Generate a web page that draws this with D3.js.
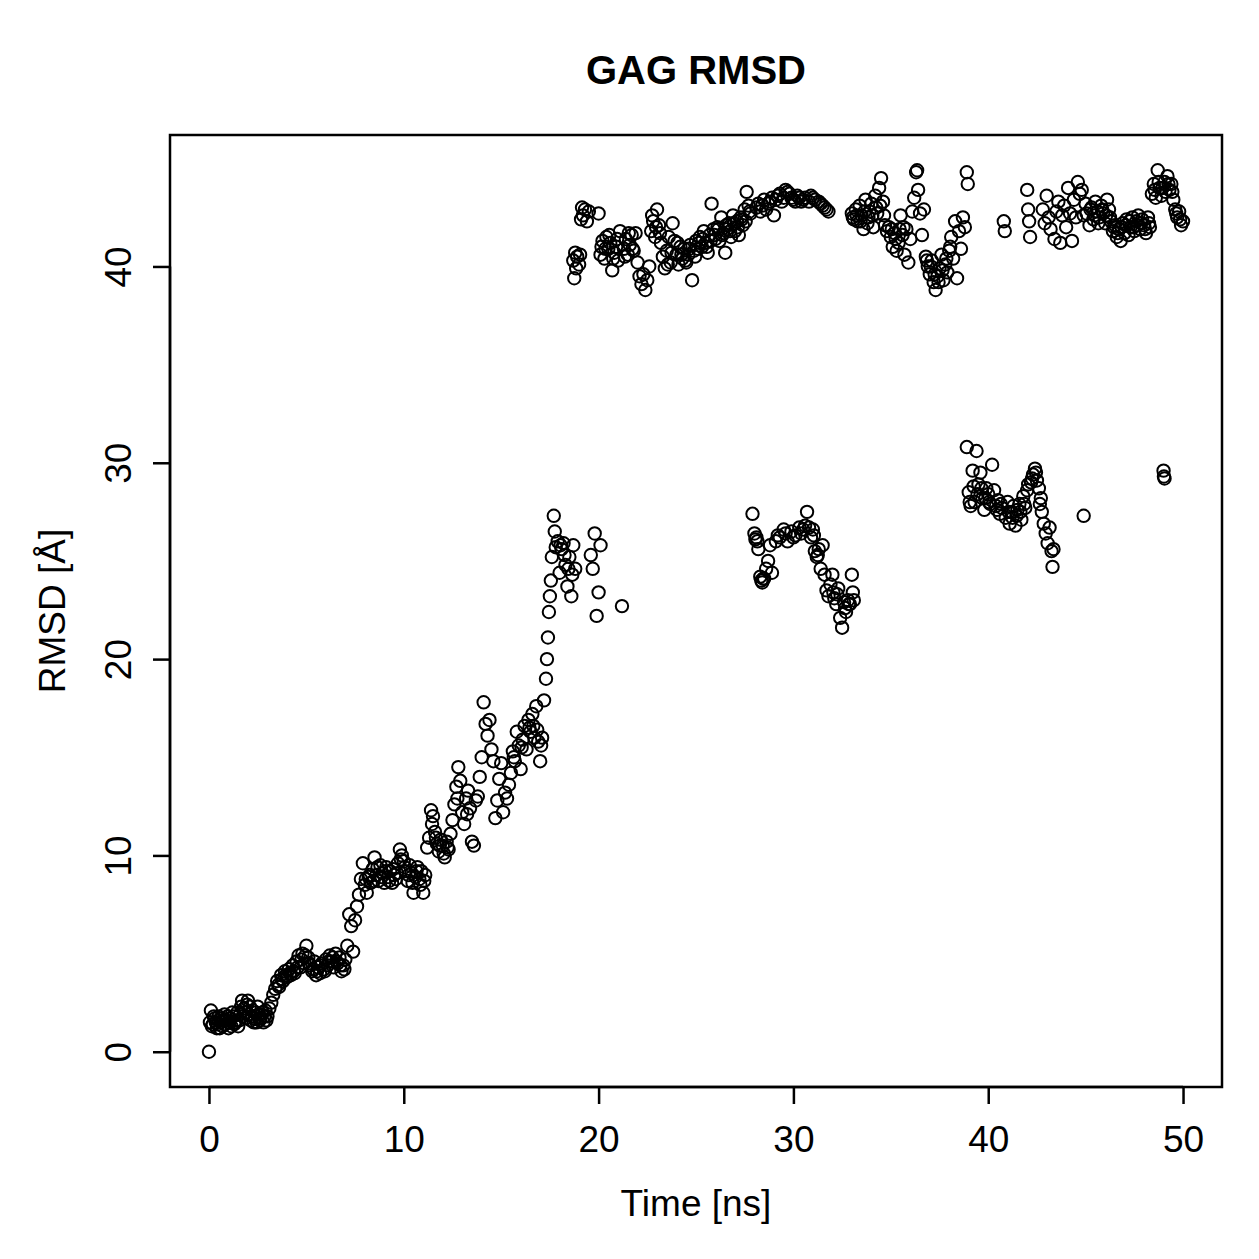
<!DOCTYPE html>
<html>
<head>
<title>GAG RMSD</title>
<script src="https://d3js.org/d3.v7.min.js" charset="utf-8"></script>
<style>
body { margin: 0; background: white; }
text { font-family: "Liberation Sans", Arial, sans-serif; fill: black; }
</style>
</head>
<body>
<script>
// time [ns], RMSD [Å]
var lowBand = [
 [0,0],[0.1,2.1],[0.2,1.4],[0.3,1.7],[0.4,1.2],[0.5,1.8],[0.6,1.5],[0.7,1.3],[0.8,1.9],[0.9,1.6],
 [1.0,1.2],[1.1,1.7],[1.2,2.0],[1.3,1.4],[1.4,1.6],[1.5,1.3],[1.6,1.9],[1.7,2.6],[1.8,2.2],[1.9,1.7],
 [2.0,2.6],[2.1,2.3],[2.2,1.8],[2.3,1.5],[2.4,2.0],[2.5,2.3],[2.6,1.6],[2.7,1.9],[2.8,1.5],[2.9,2.1],
 [3.0,1.8],[3.1,2.2],[3.2,2.5],[3.3,2.9],[3.4,3.2],[3.5,3.6],[3.6,3.3],[3.7,3.9],[3.8,3.6],[3.9,4.1],
 [4.0,3.8],[4.1,4.2],[4.2,3.9],[4.3,4.4],[4.4,4.0],[4.5,4.6],[4.6,4.9],[4.7,4.3],[4.8,5.0],[4.9,4.5],
 [5.0,5.4],[5.1,4.8],[5.2,4.4],[5.3,4.1],[5.4,4.6],[5.5,3.9],[5.6,4.3],[5.7,4.0],[5.8,4.5],[5.9,4.2],
 [6.0,4.7],[6.1,4.4],[6.2,4.9],[6.3,4.6],[6.4,4.3],[6.5,5.0],[6.6,4.5],[6.7,4.8],[6.8,4.1],[6.9,4.4],
 [7.0,4.7],[7.1,5.4],[7.2,7.0],[7.3,6.4],[7.4,5.1],[7.5,6.7],[7.6,7.4],[7.7,8.0],[7.8,8.8],[7.9,9.6],
 [8.0,8.5],[8.1,8.1],[8.2,8.9],[8.3,8.6],[8.4,9.3],[8.5,9.9],[8.6,9.0],[8.7,8.7],[8.8,9.5],[8.9,9.1],
 [9.0,8.6],[9.1,9.4],[9.2,8.9],[9.3,9.2],[9.4,8.6],[9.5,9.0],[9.6,8.8],[9.7,9.6],[9.8,10.3],[9.9,10.0],
 [10.0,9.7],[10.1,9.2],[10.2,8.7],[10.3,9.5],[10.4,9.1],[10.5,8.1],[10.6,8.9],[10.7,9.4],[10.8,8.8],[10.9,9.2],
 [11.0,8.1],[11.1,9.0],[11.2,10.4],[11.3,10.9],[11.4,12.3],[11.5,12.0],[11.6,11.2],[11.7,10.6],[11.8,10.2],[11.9,10.8],
 [12.0,10.5],[12.1,9.9],[12.2,10.7],[12.3,10.3],[12.4,11.1],[12.5,11.8],[12.6,12.6],[12.7,13.5],[12.8,14.5],[12.9,13.8],
 [13.0,12.2],[13.1,11.6],[13.2,12.9],[13.3,13.3],[13.4,12.4],[13.5,10.7],[13.6,10.5],[13.7,12.8],[13.8,13.0],[13.9,14.0],
 [14.0,15.0],[14.1,17.8],[14.2,16.7],[14.3,16.1],[14.4,16.9],[14.5,15.4],[14.6,14.8],[14.7,11.9],[14.8,12.8],[14.9,13.9],
 [15.0,14.7],[15.1,12.2],[15.2,13.2],[15.3,12.9],[15.4,13.6],[15.5,14.2],[15.6,15.3],[15.7,14.8],[15.8,16.3],[15.9,15.6],
 [16.0,14.4],[16.1,15.9],[16.2,16.6],[16.3,15.4],[16.4,16.9],[16.5,16.3],[16.6,17.2],[16.7,16.0],[16.8,17.6],[16.9,15.8],
 [17.0,14.8],[17.1,16.0],[17.2,17.9],[17.3,19.0],[17.35,20.0],[17.4,21.1],[17.45,22.4],[17.5,23.2],[17.55,24.0],[17.6,25.2],
 [17.7,27.3],[17.75,26.5],[17.8,25.7],[17.9,26.0],[18.0,24.4],[18.1,25.6],[18.2,25.9],[18.3,24.8],[18.4,23.7],[18.5,25.2],
 [18.6,23.2],[18.7,25.8],[18.8,24.6],[19.6,25.3],[19.7,24.6],[19.8,26.4],[19.9,22.2],[20.0,23.4],[20.1,25.8],[21.2,22.7]
];

// in-between frames of the lower band, where the cloud is densest
var lowBandHalf = [
 [0.05,1.5],[0.15,1.3],[0.25,1.8],[0.35,1.5],[0.45,1.4],[0.55,1.2],[0.65,1.7],[0.75,1.6],[0.85,1.4],[0.95,1.8],
 [1.05,1.5],[1.15,1.3],[1.25,1.8],[1.35,1.5],[1.45,2.0],[1.55,1.6],[1.65,2.3],[1.75,1.8],[1.85,2.0],[1.95,2.4],
 [2.05,1.9],[2.15,1.6],[2.25,2.1],[2.35,1.7],[2.45,1.5],[2.55,1.9],[2.65,1.7],[2.75,2.0],[2.85,1.8],[2.95,1.6],
 [3.55,3.4],[3.75,3.7],[3.95,3.9],[4.15,4.0],[4.35,4.1],[4.55,4.3],[4.75,4.7],[4.95,4.9],[5.15,4.5],[5.35,4.2],
 [5.55,4.1],[5.75,4.4],[5.95,4.1],[6.15,4.6],[6.35,4.8],[6.55,4.6],[6.75,4.4],[6.95,4.2],
 [8.05,8.8],[8.25,9.0],[8.45,8.7],[8.65,9.4],[8.85,8.9],[9.05,9.2],[9.25,8.7],[9.45,9.3],[9.65,9.1],[9.85,9.8],
 [10.05,9.4],[10.25,9.0],[10.45,8.6],[10.65,9.2],[10.85,8.5],[11.05,8.7],
 [11.45,11.6],[11.65,10.9],[11.85,10.5],[12.05,10.1],[12.25,10.4],[12.75,12.9],[13.25,12.1],
 [15.65,15.0],[16.05,15.5],[16.45,16.5],[16.65,16.6],[16.85,16.4],[17.05,15.6],
 [18.05,25.8],[18.25,25.3],[18.45,24.6],[18.65,24.3]
];

var midBandA = [
 [27.9,27.4],[28.0,26.4],[28.05,26.1],[28.1,26.2],[28.2,25.6],[28.3,24.2],[28.4,23.9],[28.5,24.1],[28.6,24.6],[28.7,25.0],
 [28.8,25.8],[28.9,24.4],[29.1,26.0],[29.3,26.2],[29.5,26.6],[29.7,26.0],[29.9,26.5],[30.1,26.3],[30.3,26.7],[30.5,26.6],
 [30.7,27.5],[30.8,26.7],[30.9,26.2],[31.0,26.6],[31.1,25.5],[31.2,25.2],[31.3,25.6],[31.4,24.6],[31.5,25.8],[31.6,24.3],
 [31.7,23.5],[31.8,23.2],[31.9,23.8],[32.0,24.3],[32.1,23.1],[32.2,22.8],[32.3,23.6],[32.4,22.1],[32.5,21.6],[32.6,22.9],
 [32.7,22.4],[32.8,23.0],[32.9,22.8],[33.0,24.3],[33.1,23.0]
];

var midBandB = [
 [38.9,30.8],[39.0,28.5],[39.1,27.8],[39.2,29.6],[39.3,28.0],[39.4,30.6],[39.5,28.9],[39.6,29.5],[39.7,28.2],[39.8,27.6],
 [39.9,28.7],[40.0,28.4],[40.1,27.9],[40.2,29.9],[40.3,28.6],[40.4,27.8],[40.5,28.1],[40.6,27.4],[40.7,27.7],[40.9,27.2],
 [41.0,28.0],[41.1,26.9],[41.2,27.5],[41.3,27.8],[41.4,26.8],[41.5,27.6],[41.6,27.9],[41.7,27.1],[41.8,28.3],[41.9,27.7],
 [42.0,28.6],[42.2,29.0],[42.3,29.4],[42.4,29.7],[42.5,29.1],[42.6,28.7],[42.65,27.9],[42.7,28.2],[42.75,27.5],[42.85,26.9],
 [42.95,26.4],[43.05,25.9],[43.15,26.7],[43.25,25.5],[43.3,24.7],[43.35,25.6],[44.9,27.3],
 [49.0,29.6],[49.02,29.3],[49.05,29.2]
];

var midBandHalf = [
 [28.15,26.0],[28.35,24.0],[28.45,24.1],[29.2,26.3],[29.6,26.4],[30.0,26.2],[30.4,26.4],[30.6,26.8],[31.05,26.3],[31.25,25.3],
 [32.05,23.4],[32.25,23.3],[32.65,22.6],[32.85,22.8],[33.05,23.4],
 [39.05,28.0],[39.25,28.8],[39.45,28.4],[39.65,28.7],[39.85,28.2],[40.05,28.0],[40.45,27.6],[40.65,27.9],[41.05,27.5],[41.25,27.2],
 [41.45,27.3],[41.65,27.5],[41.85,27.9],[42.05,28.9],[42.25,29.2],[42.45,29.5]
];

var upperBand = [
 [18.7,40.3],[18.75,39.4],[18.8,40.7],[18.85,39.9],[18.9,40.5],[19.0,40.1],[19.05,40.6],[19.1,42.4],[19.15,43.0],[19.2,42.6],
 [19.3,42.9],[19.4,42.3],[19.5,42.8],[20.0,42.7],[20.1,40.6],[20.2,41.3],[20.3,40.4],[20.4,41.5],[20.5,40.9],[20.6,41.2],
 [20.7,39.8],[20.8,40.7],[20.9,41.0],[21.0,40.3],[21.1,41.8],[21.3,40.9],[21.4,41.4],[21.5,40.6],[21.6,41.1],[21.7,41.6],
 [21.8,40.8],[21.9,41.7],[22.0,40.2],[22.1,39.5],[22.2,39.1],[22.3,39.6],[22.4,38.8],[22.5,39.3],[22.6,40.0],[22.7,41.8],
 [22.8,42.3],[22.9,41.5],[23.0,42.9],[23.1,42.1],[23.2,41.2],[23.3,40.5],[23.4,39.9],[23.5,40.8],[23.6,41.5],[23.7,40.2],
 [23.8,42.2],[23.9,41.3],[24.0,40.6],[24.1,40.1],[24.2,41.0],[24.3,40.4],[24.4,40.9],[24.5,40.2],[24.6,40.6],[24.7,41.1],
 [24.8,39.3],[24.9,40.8],[25.0,41.3],[25.1,40.9],[25.2,41.5],[25.3,41.0],[25.4,41.8],[25.5,41.2],[25.6,40.7],[25.7,41.6],
 [25.8,43.2],[25.9,41.9],[26.0,41.4],[26.1,42.0],[26.2,41.3],[26.3,42.5],[26.4,41.7],[26.5,40.7],[26.6,41.9],[26.7,42.2],
 [26.8,41.5],[26.9,42.6],[27.0,41.8],[27.1,42.3],[27.2,41.6],[27.3,42.5],[27.4,42.1],[27.5,42.9],[27.6,43.8],[27.7,43.1],
 [27.8,42.7],[28.1,43.0],[28.3,42.8],[28.5,43.4],[28.7,43.2],[28.9,43.5],[29.0,42.6],[29.2,43.6],[29.4,43.3],[29.6,43.9],
 [29.8,43.7],[30.0,43.4],[30.2,43.6],[30.4,43.3],[30.6,43.5],[30.9,43.6],[31.1,43.4],[31.4,43.2],[31.6,43.0],[31.8,42.8],
 [33.0,42.7],[33.1,42.4],[33.2,42.9],[33.3,42.3],[33.4,43.1],[33.5,42.6],[33.6,41.9],[33.7,43.4],[33.8,42.2],[33.9,42.8],
 [34.0,43.2],[34.1,42.0],[34.2,43.6],[34.3,42.7],[34.4,44.0],[34.5,44.5],[34.6,43.3],[34.7,42.1],[34.8,41.8],[34.9,42.0],
 [35.0,41.5],[35.1,41.0],[35.2,41.7],[35.3,40.8],[35.4,41.2],[35.5,42.6],[35.6,41.6],[35.7,40.6],[35.8,41.9],[35.9,40.2],
 [36.0,41.4],[36.1,42.8],[36.2,43.5],[36.3,44.8],[36.35,44.9],[36.4,43.9],[36.5,42.7],[36.6,41.6],[36.7,42.9],[36.8,40.5],
 [36.9,40.0],[37.0,39.6],[37.1,40.3],[37.2,39.2],[37.3,38.8],[37.4,39.5],[37.5,39.9],[37.6,40.6],[37.7,39.3],[37.8,40.1],
 [37.9,39.7],[38.0,40.8],[38.1,41.5],[38.2,40.4],[38.3,42.3],[38.4,39.4],[38.5,41.8],[38.6,40.9],[38.7,42.5],[38.8,42.0],
 [38.9,44.8],[38.95,44.2],[40.8,42.3],[40.85,41.8],[42.0,43.9],[42.05,42.9],[42.1,42.3],[42.15,41.5],[42.8,42.9],[42.9,42.2],
 [43.0,43.6],[43.1,42.5],[43.2,41.9],[43.4,41.4],[43.5,42.8],[43.6,43.3],[43.7,41.2],[43.8,42.6],[43.9,43.1],[44.0,42.0],
 [44.1,44.0],[44.2,42.7],[44.3,41.3],[44.4,43.4],[44.5,42.5],[44.6,44.3],[44.7,43.7],[44.8,43.9],[44.9,42.6],[45.0,43.2],
 [45.2,42.1],[45.3,43.0],[45.4,42.4],[45.5,43.3],[45.6,42.8],[45.7,42.5],[45.8,43.1],[45.9,42.7],[46.0,42.2],[46.1,43.4],
 [46.2,42.9],[46.3,42.3],[46.4,41.8],[46.5,42.1],[46.6,41.5],[46.7,41.9],[46.8,41.3],[46.9,42.2],[47.0,41.7],[47.1,42.4],
 [47.2,41.6],[47.3,42.0],[47.4,42.5],[47.5,41.8],[47.6,42.3],[47.7,42.6],[47.8,41.9],[47.9,42.4],[48.0,42.1],[48.1,41.7],
 [48.2,42.5],[48.3,42.0],[48.4,43.7],[48.5,44.2],[48.6,43.5],[48.7,44.9],[48.8,44.0],[48.9,43.6],[49.05,44.3],[49.1,43.8],
 [49.2,44.6],[49.3,43.9],[49.4,44.2],[49.5,43.4],[49.6,42.9],[49.7,42.5],[49.8,42.8],[49.9,42.1],[50.0,42.3]
];

var upperBandHalf = [
 [20.15,41.0],[20.35,40.9],[20.55,41.6],[20.75,40.4],[20.95,41.4],[21.35,40.5],[21.55,41.7],[21.75,40.9],[22.75,42.6],[22.95,42.0],
 [23.15,41.7],[23.55,40.1],[23.75,40.7],[24.05,41.2],[24.25,40.6],[24.45,40.3],[24.65,40.9],[24.95,40.5],[25.15,41.2],[25.35,41.4],
 [25.55,41.0],[25.75,41.3],[25.95,41.6],[26.15,41.9],[26.35,41.6],[26.55,42.1],[26.75,41.8],[26.95,42.2],[27.15,42.0],[27.35,42.4],
 [27.55,42.3],[27.75,42.8],
 [28.2,43.2],[28.4,43.1],[28.6,42.9],[28.8,43.3],[29.1,43.4],[29.3,43.7],[29.5,43.5],[29.7,43.8],[29.9,43.5],[30.1,43.3],
 [30.3,43.5],[30.5,43.4],[30.8,43.3],[31.0,43.5],[31.3,43.3],[31.5,43.1],[31.7,42.9],
 [33.05,42.5],[33.25,42.6],[33.45,42.3],[33.65,42.8],[33.85,42.5],[34.05,42.6],[34.25,43.0],[34.45,43.1],[34.65,42.6],
 [35.05,41.9],[35.25,41.4],[35.45,41.9],[35.65,42.0],[36.85,40.3],[37.05,40.0],[37.25,39.6],[37.45,39.2],[37.65,39.8],[37.85,40.4],
 [38.05,41.0],
 [45.05,42.7],[45.25,42.9],[45.45,42.6],[45.65,42.2],[45.85,42.9],[46.05,42.6],[46.25,42.5],[46.45,42.0],[46.65,41.7],[46.85,42.0],
 [47.05,42.1],[47.25,42.3],[47.45,42.0],[47.65,42.1],[47.85,42.2],[48.05,41.9],[48.25,42.2],[48.55,43.9],[48.75,44.3],[48.95,44.0],
 [49.25,44.2],[49.45,43.8],[49.65,42.7],[49.85,42.4]
];

var xTicks = [0, 10, 20, 30, 40, 50];
var yTicks = [0, 10, 20, 30, 40];
var chartTitle = "GAG RMSD";
var xTitle = "Time [ns]";
var yTitle = "RMSD [Å]";

var width = 1259, height = 1259;
var plotLeft = 170, plotRight = 1222, plotTop = 135, plotBottom = 1087;

var allPts = lowBand.concat(lowBandHalf, midBandA, midBandB, midBandHalf, upperBand, upperBandHalf);

// R style 4% padding on both axes
function padded(ext) {
  var d = (ext[1] - ext[0]) * 0.04;
  return [ext[0] - d, ext[1] + d];
}

var x = d3.scaleLinear()
  .domain(padded(d3.extent(allPts, function(d){ return d[0]; })))
  .range([plotLeft, plotRight]);
var y = d3.scaleLinear()
  .domain(padded(d3.extent(allPts, function(d){ return d[1]; })))
  .range([plotBottom, plotTop]);

var svg = d3.select("body").append("svg")
  .attr("width", width)
  .attr("height", height);

svg.append("rect").attr("width", width).attr("height", height).attr("fill", "white");

// points
svg.append("g")
  .selectAll("circle")
  .data(allPts)
  .enter()
  .append("circle")
  .attr("cx", function(d){ return x(d[0]); })
  .attr("cy", function(d){ return y(d[1]); })
  .attr("r", 6.2)
  .attr("fill", "none")
  .attr("stroke", "black")
  .attr("stroke-width", 2);

// frame
svg.append("rect")
  .attr("x", plotLeft).attr("y", plotTop)
  .attr("width", plotRight - plotLeft).attr("height", plotBottom - plotTop)
  .attr("fill", "none").attr("stroke", "black").attr("stroke-width", 2.5);

// axes
var xAxis = d3.axisBottom(x).tickValues(xTicks).tickSize(17).tickPadding(22);
var gx = svg.append("g").attr("transform", "translate(0," + plotBottom + ")").call(xAxis);
gx.select(".domain").attr("d", "M" + x(xTicks[0]) + ",0H" + x(xTicks[xTicks.length - 1]))
  .attr("stroke-width", 2.5);
gx.selectAll(".tick line").attr("stroke-width", 2.5);
gx.selectAll(".tick text")
  .style("font-family", "'Liberation Sans', Arial, sans-serif")
  .style("font-size", "37px");

var yAxis = d3.axisLeft(y).tickValues(yTicks).tickSize(17);
var gy = svg.append("g").attr("transform", "translate(" + plotLeft + ",0)").call(yAxis);
gy.select(".domain").attr("d", "M0," + y(yTicks[0]) + "V" + y(yTicks[yTicks.length - 1]))
  .attr("stroke-width", 2.5);
gy.selectAll(".tick line").attr("stroke-width", 2.5);
gy.selectAll(".tick text")
  .attr("x", null)
  .attr("text-anchor", "middle")
  .attr("transform", "translate(-52,0) rotate(-90)")
  .attr("dy", "0.35em")
  .style("font-family", "'Liberation Sans', Arial, sans-serif")
  .style("font-size", "37px");

// titles
svg.append("text")
  .attr("x", (plotLeft + plotRight) / 2).attr("y", 70)
  .attr("text-anchor", "middle").attr("dy", "0.35em")
  .style("font-size", "40px").style("font-weight", "bold")
  .text(chartTitle);

svg.append("text")
  .attr("x", (plotLeft + plotRight) / 2).attr("y", 1203)
  .attr("text-anchor", "middle").attr("dy", "0.35em")
  .style("font-size", "37px")
  .text(xTitle);

svg.append("text")
  .attr("transform", "translate(52," + ((plotTop + plotBottom) / 2) + ") rotate(-90)")
  .attr("text-anchor", "middle").attr("dy", "0.35em")
  .style("font-size", "37px")
  .text(yTitle);
</script>
</body>
</html>
